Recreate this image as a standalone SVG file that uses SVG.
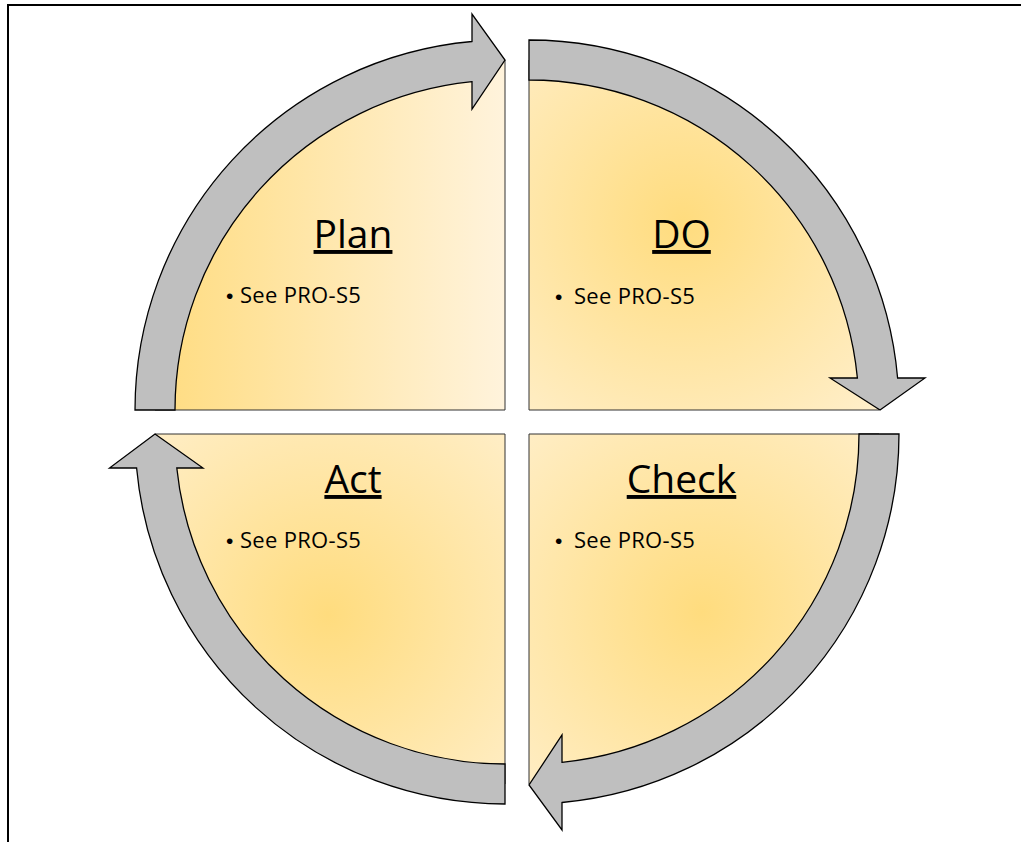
<svg xmlns="http://www.w3.org/2000/svg" width="1021" height="842" viewBox="0 0 1021 842">
<defs>
<linearGradient id="gPlan" gradientUnits="userSpaceOnUse" x1="155" y1="0" x2="505" y2="0">
<stop offset="0" stop-color="#FFDC80"/>
<stop offset="1" stop-color="#FFF3DC"/>
</linearGradient>
<radialGradient id="gDo" gradientUnits="userSpaceOnUse" cx="683" cy="222" r="330">
<stop offset="0" stop-color="#FFDC7E"/>
<stop offset="1" stop-color="#FFF3DC"/>
</radialGradient>
<radialGradient id="gCheck" gradientUnits="userSpaceOnUse" cx="702" cy="612" r="330">
<stop offset="0" stop-color="#FFDC7E"/>
<stop offset="1" stop-color="#FFF3DC"/>
</radialGradient>
<radialGradient id="gAct" gradientUnits="userSpaceOnUse" cx="328" cy="615" r="330">
<stop offset="0" stop-color="#FFDC7E"/>
<stop offset="1" stop-color="#FFF3DC"/>
</radialGradient>
</defs>
<style>
.sector{stroke:#333333;stroke-width:1}
.arrow{fill:#BFBFBF;stroke:#000000;stroke-width:1.3;stroke-linejoin:miter}
.title{font-family:"Open Sans","Liberation Sans",sans-serif;font-size:39px;fill:#000;text-anchor:middle;text-decoration:underline}
.bullet{font-family:"Open Sans","Liberation Sans",sans-serif;font-size:22px;fill:#000;letter-spacing:0.3px}
.dot{font-family:"Liberation Sans",sans-serif;font-size:21px}
.frame{stroke:#000;stroke-width:2;fill:none}
</style>
<rect x="0" y="0" width="1021" height="842" fill="#FFFFFF"/>
<path class="frame" d="M8,842 L8,5 L1021,5"/>

<g id="plan">
<path class="sector" fill="url(#gPlan)" d="M505,410 L155,410 A350,350 0 0 1 505,60 Z"/>
<text class="title" x="353" y="248">Plan</text>
<text class="bullet" y="303"><tspan class="dot" x="226">•</tspan><tspan x="240">See PRO-S5</tspan></text>
</g>

<g id="do">
<path class="sector" fill="url(#gDo)" d="M529,410 L529,60 A350,350 0 0 1 879,410 Z"/>
<text class="title" x="681.5" y="248">DO</text>
<text class="bullet" y="304"><tspan class="dot" x="555">•</tspan><tspan x="574">See PRO-S5</tspan></text>
</g>

<g id="check">
<path class="sector" fill="url(#gCheck)" d="M529,434 L879,434 A350,350 0 0 1 529,784 Z"/>
<text class="title" x="681.5" y="493">Check</text>
<text class="bullet" y="548"><tspan class="dot" x="555">•</tspan><tspan x="574">See PRO-S5</tspan></text>
</g>

<g id="act">
<path class="sector" fill="url(#gAct)" d="M505,434 L505,784 A350,350 0 0 1 155,434 Z"/>
<text class="title" x="353" y="493">Act</text>
<text class="bullet" y="548"><tspan class="dot" x="226">•</tspan><tspan x="240">See PRO-S5</tspan></text>
</g>

<g id="connectors">
<path class="arrow" d="M135,410 A370,370 0 0 1 472,41.5 L472,14 L505,60 L472,109 L472,81.7 A330,330 0 0 0 175,410 Z"/>
<path class="arrow" d="M529,40 A370,370 0 0 1 897.6,378 L925,378 L880,410 L830,378 L857.4,378 A330,330 0 0 0 529,80 Z"/>
<path class="arrow" d="M899,434 A370,370 0 0 1 562,802.5 L562,830 L529,785 L562,735 L562,762.3 A330,330 0 0 0 859,434 Z"/>
<path class="arrow" d="M505,804 A370,370 0 0 1 136.6,468 L109.5,468 L155,434 L203,468 L176.8,468 A330,330 0 0 0 505,764 Z"/>
</g>
</svg>
